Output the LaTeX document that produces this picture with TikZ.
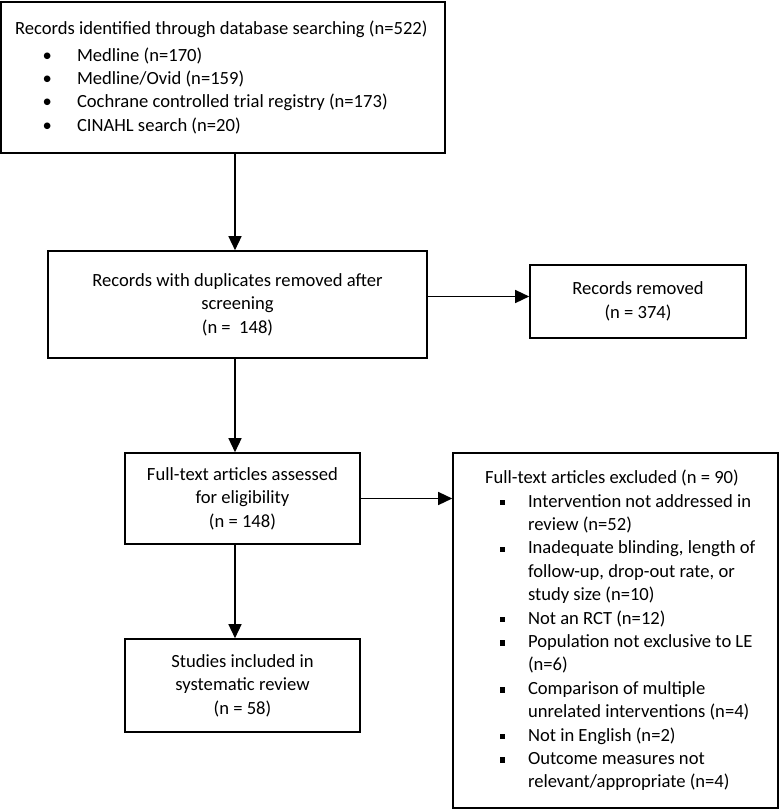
\documentclass[tikz,border=0pt]{standalone}
\usepackage{fontspec}
\setmainfont{Carlito}
\usepackage{enumitem}
\usetikzlibrary{arrows.meta,positioning}

\setlist[itemize]{itemsep=0pt,parsep=0pt,topsep=0pt,partopsep=0pt}
\newcommand{\sqbullet}{\raisebox{1.8pt}{\rule{5.5pt}{5.5pt}}}

\tikzset{
	box/.style={draw, line width=1.6pt, inner sep=0pt, align=center,
		font=\fontsize{18.6}{23.4}\selectfont},
	listbox/.style={draw, line width=1.6pt, inner sep=0pt,
		font=\fontsize{18.6}{23.4}\selectfont},
	flow/.style={-{Triangle[length=14pt,width=13pt]}, line width=1.4pt},
}

\begin{document}
\begin{tikzpicture}[x=1pt,y=-1pt]
	\useasboundingbox (0,0) rectangle (780,810);
	\node[listbox, minimum width=444pt, minimum height=151pt] (ident) at (223,77.5)
	{\hspace*{14pt}\begin{minipage}{430pt}\raggedright
		Records identified through database searching (n=522)\par\vspace{3pt}
		\begin{itemize}[leftmargin=62pt,labelsep=25pt]
			\item Medline (n=170)
			\item Medline/Ovid (n=159)
			\item Cochrane controlled trial registry (n=173)
			\item CINAHL search (n=20)
		\end{itemize}
	\end{minipage}};
	\node[box, minimum width=379pt, minimum height=107pt] (dedup) at (237.5,304.5)
	{Records with duplicates removed after\\ screening\\ (n =\ \ 148)};
	\node[box, minimum width=216pt, minimum height=73pt] (removed) at (638,301.5)
	{Records removed\\ (n = 374)};
	\node[box, minimum width=235pt, minimum height=91pt] (assessed) at (242.5,498.5)
	{Full-text articles assessed\\ for eligibility\\ (n = 148)};
	\node[listbox, minimum width=325pt, minimum height=355pt] (excluded) at (615.5,630.5)
	{\hspace*{32pt}\begin{minipage}{293pt}\raggedright
		Full-text articles excluded (n = 90)
		\begin{itemize}[leftmargin=43pt,labelsep=23pt,label=\sqbullet]
			\item Intervention not addressed in\\ review (n=52)
			\item Inadequate blinding, length of\\ follow-up, drop-out rate, or\\ study size (n=10)
			\item Not an RCT (n=12)
			\item Population not exclusive to LE\\ (n=6)
			\item Comparison of multiple\\ unrelated interventions (n=4)
			\item Not in English (n=2)
			\item Outcome measures not\\ relevant/appropriate (n=4)
		\end{itemize}
	\end{minipage}};
	\node[box, minimum width=235pt, minimum height=93pt] (included) at (242.5,685.5)
	{Studies included in\\ systematic review\\ (n = 58)};
	\coordinate (spine) at (235,0);

	\path[flow]
	(ident.south -| spine)	edge (dedup.north -| spine)
	(dedup.south -| spine)	edge (assessed.north -| spine)
	(assessed.south -| spine)	edge (included.north -| spine)
	([yshift=8pt]dedup.east)	edge ([yshift=8pt]dedup.east -| removed.west)
	(assessed.east)	edge (assessed.east -| excluded.west);
\end{tikzpicture}
\end{document}
